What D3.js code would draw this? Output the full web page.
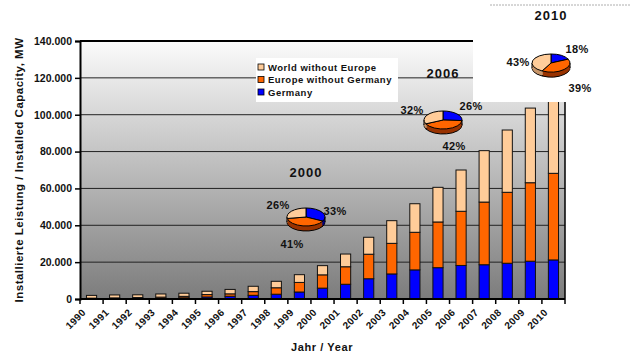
<!DOCTYPE html>
<html>
<head>
<meta charset="utf-8">
<script src="https://cdn.jsdelivr.net/npm/d3@7"></script>
<style>
  body { margin: 0; background: #fff; }
  text { font-family: "Liberation Sans", Arial, sans-serif; font-weight: bold; fill: #111; }
</style>
</head>
<body>
<div id="main"></div>
<script>
// installed wind capacity, MW
const YEARS = ["1990", "1991", "1992", "1993", "1994", "1995", "1996", "1997", "1998", "1999", "2000",
    "2001", "2002", "2003", "2004", "2005", "2006", "2007", "2008", "2009", "2010"];
const GERMANY = [60, 100, 180, 330, 640, 1100, 1500, 2000, 2600, 3800, 5900,
    8000, 11000, 13600, 15800, 17000, 18200, 18600, 19400, 20500, 21200];
const EUROPE_WO_DE = [400, 500, 600, 700, 800, 1300, 1300, 2000, 3500, 5200, 7200,
    9500, 13300, 16600, 20400, 24800, 29400, 34000, 38500, 42600, 47000];
const WORLD_WO_EU = [1500, 1600, 1500, 1700, 1700, 1800, 2400, 2900, 3500, 4200, 5000,
    6900, 9200, 12300, 15500, 18800, 22400, 27900, 33800, 40500, 49800];
const SERIES_NAMES = ["Germany", "Europe without Germany", "World without Europe"];
const Y_TICKS = [0, 20000, 40000, 60000, 80000, 100000, 120000, 140000];
const PIE_YEARS = ["2000", "2006", "2010"];
const PIE_LABELS = [["33%", "41%", "26%"], ["26%", "42%", "32%"], ["18%", "39%", "43%"]];

const ctx = {
    w: 636,
    h: 358,
    left: 80,
    right: 565,
    top: 41,
    bottom: 299,
    colors: ["#0000ff", "#ff6600", "#ffcc99"],
    sideColors: ["#000080", "#993300", "#c8966a"],
};

// pie positions and label offsets (pixels, relative to pie centre)
const PIE_LAYOUT = [
    { cx: 306, cy: 217, title: [0, -40], labels: [[29, -6], [-14, 27], [-28, -12]] },
    { cx: 443, cy: 120, title: [0, -42], labels: [[28, -14], [11, 26], [-31, -10]] },
    { cx: 551, cy: 63, title: [0, -43], labels: [[26, -14], [29, 25], [-33, -1]] },
];

const svg = d3.select("#main").append("svg")
    .attr("width", ctx.w)
    .attr("height", ctx.h);

const x = d3.scaleBand()
    .domain(YEARS)
    .range([ctx.left, ctx.right])
    .paddingInner(0.56)
    .paddingOuter(0.28);
const y = d3.scaleLinear()
    .domain([0, 140000])
    .range([ctx.bottom, ctx.top]);

// plot background gradient
const defs = svg.append("defs");
const grad = defs.append("linearGradient")
    .attr("id", "bg").attr("x1", 0).attr("y1", 0).attr("x2", 0).attr("y2", 1);
grad.append("stop").attr("offset", "0%").attr("stop-color", "#fbfbfb");
grad.append("stop").attr("offset", "100%").attr("stop-color", "#7c7c7c");

svg.append("rect")
    .attr("x", ctx.left).attr("y", ctx.top)
    .attr("width", ctx.right - ctx.left).attr("height", ctx.bottom - ctx.top)
    .attr("fill", "url(#bg)");

// gridlines
svg.append("g")
    .selectAll("line")
    .data(Y_TICKS.slice(1, -1))
    .enter()
    .append("line")
    .attr("x1", ctx.left).attr("x2", ctx.right)
    .attr("y1", (d) => y(d)).attr("y2", (d) => y(d))
    .attr("stroke", "#222").attr("stroke-width", 1);

// stacked bars
const rows = YEARS.map((yr, i) => ({ year: yr, g: GERMANY[i], e: EUROPE_WO_DE[i], w: WORLD_WO_EU[i] }));
const stack = d3.stack().keys(["g", "e", "w"])(rows);
stack.forEach(function (layer, k) {
    svg.append("g")
        .selectAll("rect")
        .data(layer)
        .enter()
        .append("rect")
        .attr("x", (d) => x(d.data.year))
        .attr("y", (d) => y(d[1]))
        .attr("width", x.bandwidth())
        .attr("height", (d) => y(d[0]) - y(d[1]))
        .attr("fill", ctx.colors[k])
        .attr("stroke", "#111")
        .attr("stroke-width", 1);
});

// plot frame
svg.append("line").attr("x1", ctx.left).attr("x2", ctx.right).attr("y1", ctx.top).attr("y2", ctx.top)
    .attr("stroke", "#000").attr("stroke-width", 2);
svg.append("line").attr("x1", ctx.right).attr("x2", ctx.right).attr("y1", ctx.top).attr("y2", ctx.bottom)
    .attr("stroke", "#000").attr("stroke-width", 1.5);

// white box behind the 2010 pie
svg.append("rect")
    .attr("x", 473).attr("y", 0).attr("width", ctx.w - 473).attr("height", 102)
    .attr("fill", "#fff");
svg.append("line")
    .attr("x1", 490).attr("x2", 630).attr("y1", 5).attr("y2", 5)
    .attr("stroke", "#999").attr("stroke-width", 0.8).attr("stroke-dasharray", "2,1");

// y axis
const fmt = d3.formatLocale({ decimal: ",", thousands: ".", grouping: [3], currency: ["", ""] }).format(",d");
const yAxis = svg.append("g")
    .attr("transform", `translate(${ctx.left},0)`)
    .call(d3.axisLeft(y).tickValues(Y_TICKS).tickFormat(fmt).tickSize(5).tickPadding(3));
yAxis.select(".domain").attr("stroke", "#000").attr("stroke-width", 2);
yAxis.selectAll(".tick line").attr("stroke", "#000").attr("stroke-width", 1.5);
yAxis.selectAll("text")
    .style("font-family", "Liberation Sans, Arial, sans-serif")
    .style("font-weight", "bold")
    .style("font-size", "10.5px")
    .attr("fill", "#111");

// x axis
const step = x.step();
const gap = (step - x.bandwidth()) / 2;
const xAx = svg.append("g");
xAx.append("line")
    .attr("x1", ctx.left).attr("x2", ctx.right).attr("y1", ctx.bottom).attr("y2", ctx.bottom)
    .attr("stroke", "#000").attr("stroke-width", 2);
xAx.selectAll(".tk")
    .data(YEARS.concat(["end"]))
    .enter()
    .append("line")
    .attr("x1", (d) => d == "end" ? ctx.right : x(d) - gap)
    .attr("x2", (d) => d == "end" ? ctx.right : x(d) - gap)
    .attr("y1", ctx.bottom).attr("y2", ctx.bottom + 5)
    .attr("stroke", "#000").attr("stroke-width", 1.5);
xAx.selectAll("text")
    .data(YEARS)
    .enter()
    .append("text")
    .attr("transform", (d) => `translate(${x(d) + x.bandwidth() / 2 - 5},${ctx.bottom + 14}) rotate(-45)`)
    .attr("text-anchor", "end")
    .style("font-size", "10px")
    .style("letter-spacing", "0.4px")
    .text((d) => d);

// axis titles
svg.append("text")
    .attr("transform", `translate(23,${(ctx.top + ctx.bottom) / 2}) rotate(-90)`)
    .attr("text-anchor", "middle")
    .style("font-size", "11.5px")
    .style("letter-spacing", "0.5px")
    .text("Installierte Leistung / Installed Capacity, MW");
svg.append("text")
    .attr("x", 322).attr("y", 351)
    .attr("text-anchor", "middle")
    .style("font-size", "11px")
    .style("letter-spacing", "0.6px")
    .text("Jahr / Year");

// legend
const legend = svg.append("g").attr("transform", "translate(256,58)");
legend.append("rect").attr("width", 142).attr("height", 44).attr("fill", "#fff");
const legendOrder = [2, 1, 0];
legendOrder.forEach(function (k, i) {
    legend.append("rect")
        .attr("x", 2).attr("y", 6 + i * 12.5)
        .attr("width", 6).attr("height", 6)
        .attr("fill", ctx.colors[k]).attr("stroke", "#000").attr("stroke-width", 0.8);
    legend.append("text")
        .attr("x", 12).attr("y", 12.5 + i * 12.5)
        .style("font-size", "9.5px")
        .style("letter-spacing", "0.5px")
        .text(SERIES_NAMES[k]);
});

// 3D pies
const rx = 19, ry = 9, depth = 5;
const pie = d3.pie().sort(null);
const arc = d3.arc().innerRadius(0).outerRadius(rx);
PIE_YEARS.forEach(function (yr, p) {
    const i = YEARS.indexOf(yr);
    const vals = [GERMANY[i], EUROPE_WO_DE[i], WORLD_WO_EU[i]];
    const arcs = pie(vals);
    const lay = PIE_LAYOUT[p];
    const g = svg.append("g").attr("transform", `translate(${lay.cx},${lay.cy})`);
    // side walls
    for (let d = depth; d >= 1; d--) {
        g.append("g")
            .attr("transform", `translate(0,${d}) scale(1,${ry / rx})`)
            .selectAll("path")
            .data(arcs)
            .enter()
            .append("path")
            .attr("d", arc)
            .attr("fill", (a) => ctx.sideColors[a.index])
            .attr("stroke", d == depth ? "#000" : "none")
            .attr("stroke-width", 1)
            .attr("vector-effect", "non-scaling-stroke");
    }
    g.append("line").attr("x1", -rx).attr("x2", -rx).attr("y1", 0).attr("y2", depth).attr("stroke", "#000");
    g.append("line").attr("x1", rx).attr("x2", rx).attr("y1", 0).attr("y2", depth).attr("stroke", "#000");
    // top face
    g.append("g")
        .attr("transform", `scale(1,${ry / rx})`)
        .selectAll("path")
        .data(arcs)
        .enter()
        .append("path")
        .attr("d", arc)
        .attr("fill", (a) => ctx.colors[a.index])
        .attr("stroke", "#000")
        .attr("stroke-width", 1)
        .attr("vector-effect", "non-scaling-stroke");
    // titles and percentages
    g.append("text")
        .attr("x", lay.title[0]).attr("y", lay.title[1])
        .attr("text-anchor", "middle")
        .style("font-size", "13px")
        .style("letter-spacing", "1px")
        .text(yr);
    PIE_LABELS[p].forEach(function (lbl, k) {
        g.append("text")
            .attr("x", lay.labels[k][0]).attr("y", lay.labels[k][1] + 4)
            .attr("text-anchor", "middle")
            .style("font-size", "11px")
            .style("letter-spacing", "0.4px")
            .text(lbl);
    });
});
</script>
</body>
</html>
